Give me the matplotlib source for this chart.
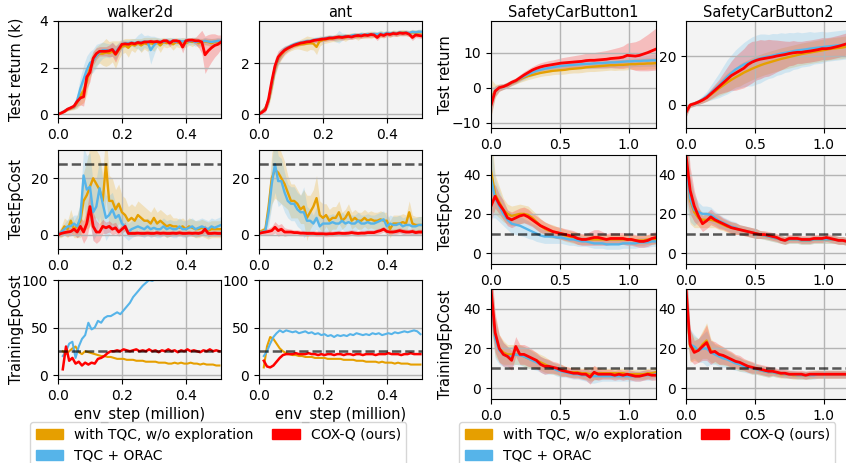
import numpy as np
import matplotlib
matplotlib.use("Agg")
import matplotlib.pyplot as plt
from matplotlib.patches import Patch

W, H = 846, 463
ORANGE = '#E69F00'
BLUE = '#56B4E9'
RED = '#FF0000'

labels = ['with TQC, w/o exploration', 'TQC + ORAC', 'COX-Q (ours)']
envs_left = ['walker2d', 'ant']
envs_right = ['SafetyCarButton1', 'SafetyCarButton2']

# ---------------- left group (x in million steps) ----------------
x_eval = np.round(np.arange(52) * 0.01, 2)          # 0.00 .. 0.51
x_train = np.round(0.015 + np.arange(50) * 0.01, 3)  # 0.015 .. 0.505

wr_orange = [0.00, 0.06, 0.12, 0.20, 0.25, 0.30, 0.50, 0.80, 1.00, 1.40,
             2.00, 2.30, 2.50, 2.60, 2.60, 2.65, 2.62, 2.70, 2.55, 2.75,
             2.90, 2.95, 2.85, 3.00, 2.95, 3.05, 2.95, 3.05, 3.00, 3.05,
             3.00, 3.08, 2.95, 3.10, 3.05, 3.10, 3.00, 3.10, 3.05, 3.10,
             3.05, 3.12, 3.10, 3.15, 3.05, 3.10, 3.12, 3.10, 3.05, 3.10,
             3.12, 3.10]
wr_blue = [0.00, 0.06, 0.14, 0.22, 0.28, 0.32, 0.60, 1.10, 1.50, 1.90,
           2.20, 2.30, 2.50, 2.65, 2.75, 2.75, 2.72, 2.80, 2.65, 2.85,
           3.00, 3.05, 3.05, 3.08, 3.05, 3.10, 3.10, 3.12, 3.10, 2.75,
           2.95, 3.10, 3.12, 3.10, 3.15, 3.12, 3.15, 3.10, 3.15, 3.12,
           3.15, 3.12, 3.15, 3.10, 3.12, 3.10, 3.15, 3.12, 3.10, 3.12,
           3.15, 3.15]
wr_red = [0.00, 0.05, 0.12, 0.22, 0.28, 0.35, 0.55, 0.70, 0.75, 1.60,
          1.80, 2.40, 2.60, 2.70, 2.70, 2.70, 2.72, 2.78, 2.58, 2.80,
          3.00, 3.02, 3.00, 3.05, 3.02, 3.08, 3.05, 3.10, 3.10, 3.12,
          3.10, 3.12, 3.08, 3.15, 3.15, 3.05, 3.15, 3.15, 3.12, 2.88,
          3.15, 3.18, 3.18, 3.15, 3.15, 3.10, 2.55, 2.72, 2.85, 2.95,
          3.00, 3.10]
wr_orange_sd = [0.02, 0.04, 0.05, 0.06, 0.08, 0.10, 0.25, 0.40, 0.50, 0.55,
                0.45, 0.40, 0.40, 0.40, 0.50, 0.60, 0.50, 0.45, 0.60, 0.40,
                0.30, 0.30, 0.40, 0.25, 0.30, 0.20, 0.30, 0.25, 0.30, 0.25,
                0.30, 0.20, 0.30, 0.20, 0.20, 0.20, 0.25, 0.20, 0.20, 0.20,
                0.20, 0.15, 0.20, 0.15, 0.20, 0.15, 0.15, 0.15, 0.20, 0.15,
                0.15, 0.15]
wr_blue_sd = [0.02, 0.04, 0.05, 0.06, 0.08, 0.10, 0.30, 0.50, 0.60, 0.60,
              0.50, 0.50, 0.50, 0.40, 0.35, 0.30, 0.30, 0.30, 0.30, 0.25,
              0.20, 0.15, 0.15, 0.15, 0.20, 0.30, 0.40, 0.25, 0.30, 0.60,
              0.40, 0.20, 0.15, 0.15, 0.15, 0.15, 0.15, 0.15, 0.15, 0.15,
              0.15, 0.15, 0.15, 0.20, 0.15, 0.15, 0.15, 0.15, 0.15, 0.15,
              0.15, 0.15]
wr_red_sd = [0.02, 0.04, 0.05, 0.06, 0.08, 0.10, 0.20, 0.30, 0.40, 0.50,
             0.40, 0.30, 0.25, 0.20, 0.20, 0.20, 0.25, 0.30, 0.35, 0.25,
             0.15, 0.12, 0.12, 0.10, 0.10, 0.10, 0.10, 0.10, 0.10, 0.10,
             0.10, 0.10, 0.10, 0.10, 0.10, 0.15, 0.10, 0.10, 0.10, 0.25,
             0.15, 0.10, 0.10, 0.15, 0.30, 0.50, 0.80, 0.70, 0.60, 0.50,
             0.40, 0.30]

ar_orange = [0.05, 0.12, 0.25, 0.50, 1.10, 1.80, 2.15, 2.35, 2.50, 2.58,
             2.65, 2.70, 2.72, 2.75, 2.76, 2.78, 2.80, 2.78, 2.65, 2.88,
             2.92, 2.95, 2.98, 2.98, 3.00, 3.02, 3.05, 3.02, 3.06, 3.08,
             3.10, 3.06, 3.12, 3.10, 3.14, 3.12, 3.15, 3.12, 3.16, 3.14,
             3.18, 3.15, 3.20, 3.18, 3.20, 3.22, 3.20, 3.18, 3.22, 3.20,
             3.22, 3.22]
ar_blue = [0.02, 0.10, 0.22, 0.55, 1.20, 1.85, 2.20, 2.40, 2.55, 2.62,
           2.70, 2.75, 2.80, 2.82, 2.85, 2.88, 2.88, 2.92, 2.94, 2.95,
           2.98, 3.00, 3.02, 3.02, 3.00, 3.05, 3.05, 3.08, 3.05, 3.10,
           3.12, 3.10, 3.14, 3.12, 3.15, 3.14, 3.16, 3.15, 3.18, 3.15,
           3.20, 3.18, 3.20, 3.18, 3.22, 3.20, 3.22, 3.20, 3.24, 3.22,
           3.25, 3.24]
ar_red = [0.00, 0.08, 0.18, 0.60, 1.30, 1.90, 2.25, 2.40, 2.52, 2.60,
          2.66, 2.72, 2.76, 2.80, 2.82, 2.85, 2.86, 2.90, 2.92, 2.94,
          2.96, 2.97, 3.00, 3.00, 3.02, 3.04, 3.02, 3.05, 3.06, 3.04,
          3.08, 3.10, 3.08, 3.12, 3.10, 3.14, 3.12, 3.02, 3.14, 3.10,
          3.16, 3.14, 3.18, 3.16, 3.20, 3.18, 3.20, 3.15, 3.02, 3.12,
          3.10, 3.08]
ar_orange_sd = [0.05, 0.08, 0.12, 0.20, 0.30, 0.30, 0.25, 0.20, 0.18, 0.15,
                0.15, 0.15, 0.15, 0.20, 0.25, 0.30, 0.25, 0.25, 0.30, 0.20,
                0.15, 0.15, 0.15, 0.12, 0.15, 0.15, 0.12, 0.15, 0.12, 0.12,
                0.12, 0.15, 0.12, 0.12, 0.12, 0.15, 0.12, 0.12, 0.15, 0.12,
                0.12, 0.12, 0.12, 0.12, 0.12, 0.12, 0.12, 0.12, 0.12, 0.12,
                0.12, 0.12]
ar_blue_sd = [0.02, 0.05, 0.10, 0.20, 0.30, 0.30, 0.25, 0.20, 0.15, 0.12,
              0.10, 0.10, 0.10, 0.10, 0.10, 0.10, 0.10, 0.10, 0.12, 0.12,
              0.10, 0.10, 0.10, 0.10, 0.15, 0.25, 0.15, 0.10, 0.10, 0.10,
              0.10, 0.10, 0.10, 0.10, 0.10, 0.10, 0.10, 0.10, 0.10, 0.10,
              0.10, 0.10, 0.10, 0.10, 0.10, 0.10, 0.10, 0.10, 0.10, 0.10,
              0.10, 0.10]
ar_red_sd = [0.02, 0.05, 0.10, 0.20, 0.30, 0.30, 0.25, 0.20, 0.15, 0.12,
             0.10, 0.10, 0.10, 0.10, 0.10, 0.10, 0.10, 0.10, 0.10, 0.10,
             0.10, 0.10, 0.10, 0.10, 0.10, 0.10, 0.10, 0.10, 0.10, 0.10,
             0.10, 0.10, 0.10, 0.10, 0.10, 0.10, 0.10, 0.12, 0.10, 0.10,
             0.10, 0.10, 0.10, 0.10, 0.10, 0.10, 0.10, 0.10, 0.12, 0.10,
             0.10, 0.10]

wc_orange = [0, 1, 3, 2, 5, 2, 3, 5, 12, 14,
             17, 20, 18, 16, 12, 25, 12, 12, 9, 11,
             8, 7, 5, 6, 5, 7, 6, 5, 5, 4,
             6, 4, 5, 4, 3, 3.5, 3, 3, 2.5, 3,
             2, 3, 2.5, 2, 2, 2.5, 2, 1.5, 2, 2,
             2, 2]
wc_blue = [0, 1, 2, 3, 3, 4, 3, 6, 21, 16,
           17, 8, 10, 16.5, 11, 6, 7, 9, 6, 7,
           4, 3, 1, 2, 2.5, 3, 2.5, 2, 3, 2,
           2.5, 2, 2, 3, 2, 2.5, 2, 2, 3, 2,
           2, 2.5, 3, 2, 2.5, 3, 2.5, 2, 3, 2.5,
           3, 3.5]
wc_red = [0, 0.5, 0.8, 1, 1.2, 2, 1, 3, 1, 4,
          10, 3, 1, 1, 3, 2.5, 3, 2, 2.5, 1,
          2, 3, 0.5, 0.5, 0.5, 0.6, 0.5, 0.5, 0.6, 0.5,
          0.5, 0.7, 0.5, 0.6, 0.5, 0.5, 0.6, 0.5, 0.7, 0.5,
          0.5, 0.6, 0.5, 0.6, 0.5, 0.8, 2, 0.5, 0.5, 0.6,
          0.5, 0.5]
wc_orange_sd = [1, 2, 3, 3, 4, 3, 4, 6, 10, 12,
                14, 14, 12, 12, 10, 12, 9, 8, 7, 7,
                6, 6, 5, 5, 5, 5, 5, 5, 4, 4,
                4, 4, 4, 4, 4, 4, 3, 3, 3, 3,
                3, 3, 3, 3, 3, 3, 3, 3, 3, 3,
                3, 3]
wc_blue_sd = [1, 1.5, 2, 2.5, 3, 3, 4, 6, 10, 12,
              12, 10, 10, 10, 9, 8, 7, 6, 5, 5,
              4, 4, 3, 3, 3, 3, 3, 3, 3, 3,
              3, 3, 3, 3, 3, 3, 3, 3, 3, 3,
              3, 3, 3, 3, 3, 3, 3, 3, 3, 3,
              3, 3]
wc_red_sd = [0.5, 1, 1, 1.5, 1.5, 2, 2, 3, 4, 5,
             6, 5, 4, 3, 2.5, 2, 2, 2, 2, 1.5,
             1.5, 1.5, 1, 1, 1, 1, 1, 1, 1, 1,
             1, 1, 1, 1, 1, 1, 1, 1, 1, 1,
             1, 1, 1, 1, 1, 1, 1.5, 1, 1, 1,
             1, 1]

ac_orange = [1, 1.5, 2, 10, 20, 23, 22, 20, 18, 15,
             12, 12, 11, 9, 10, 6, 8, 10, 13, 7,
             6, 7, 5, 6, 6, 8, 5, 6, 8, 5,
             6, 5, 5, 6, 5, 5.5, 5, 5, 5.5, 5,
             5, 2, 4, 4, 4, 4.5, 4, 8, 4, 3.5,
             3.5, 3.5]
ac_blue = [1, 1, 1.5, 8, 18, 25, 19, 19, 15, 12,
           11, 11, 9, 8, 8, 5, 5, 4, 6, 3,
           4, 4, 4, 4.5, 4, 4, 5, 4, 4.5, 4,
           4, 5, 4, 4, 4.5, 4, 4, 4.5, 5, 5.5,
           3, 4, 3.5, 3.5, 4, 3, 3.5, 3.5, 3, 3,
           3.5, 3.5]
ac_red = [0.5, 0.8, 1, 1.2, 1.5, 2.7, 1.5, 2, 1, 1,
          1, 0.8, 0.8, 0.6, 0.6, 0.5, 0.5, 0.5, 0.4, 0.4,
          0.4, 0.3, 0.4, 0.4, 0.5, 0.6, 0.5, 0.5, 0.6, 0.8,
          0.6, 0.5, 0.6, 0.6, 0.8, 0.8, 0.8, 1.2, 1.5, 2,
          1.2, 1, 1, 1.2, 1.5, 1.2, 1, 1, 1.2, 0.8,
          1, 1]
ac_orange_sd = [0.5, 1, 1, 5, 9, 10, 10, 9, 8, 6,
                6, 6, 5, 5, 6, 8, 6, 6, 8, 5,
                5, 4, 4, 4, 4, 4, 3, 3, 3, 3,
                3, 3, 3, 3, 3, 3, 3, 3, 3, 3,
                3, 3, 3, 3, 3, 3, 3, 4, 3, 3,
                3, 3]
ac_blue_sd = [0.5, 0.5, 1, 5, 8, 10, 9, 8, 7, 6,
              6, 6, 6, 6, 9, 5, 4, 3, 4, 3,
              3, 3, 3, 3, 3, 3, 3, 3, 3, 3,
              3, 3, 3, 3, 3, 3, 3, 3, 3, 3,
              3, 3, 3, 3, 3, 3, 3, 3, 3, 3,
              3, 3]
ac_red_sd = [0.5, 0.8, 1, 1.2, 1.5, 2, 2, 2, 1.5, 1.2,
             1, 1, 1, 1, 1, 1, 1, 1, 1, 1,
             1, 1, 1, 1, 1, 1, 1, 1, 1, 1,
             1, 1, 1, 1, 1, 1, 1, 1, 1, 1,
             1, 1, 1, 1, 1, 1, 1, 1, 1, 1,
             1, 1]

wt_orange = [25, 22, 25, 28, 30, 24, 22, 25, 24, 23,
             22, 21, 20, 20, 19, 19, 18, 17, 17, 17,
             16, 16, 16, 15, 15, 15, 14, 14, 14, 14,
             13, 13, 13, 12, 12, 13, 12, 13, 12, 12,
             13, 12, 12, 11, 12, 11, 11, 11, 10, 10]
wt_blue = [20, 25, 33, 35, 18, 30, 38, 42, 55, 48,
           50, 57, 55, 60, 62, 62, 64, 66, 64, 68,
           72, 76, 82, 86, 90, 94, 97, 100, 99, 101,
           103, 100, 102, 105, 108, 112, 115, 118, 120, 118,
           115, 112, 110, 108, 106, 104, 102, 101, 100.5, 100]
wt_red = [6, 30, 15, 18, 12, 14, 10, 13, 11, 13,
          12, 17, 18, 20, 23, 25, 25, 26, 25, 27,
          26, 25, 26, 27, 25, 26, 25, 27, 25, 26,
          24, 26, 25, 27, 25, 26, 24, 26, 25, 27,
          25, 26, 25, 24, 26, 25, 27, 25, 26, 25]

at_orange = [8, 30, 40, 38, 33, 28, 25, 23, 22, 21,
             21, 20, 20, 19, 19, 19, 18, 18, 18, 18,
             17, 17, 17, 17, 17, 16, 16, 16, 16, 15,
             15, 15, 14, 14, 14, 14, 13, 14, 13, 13,
             13, 12, 13, 12, 12, 12, 11, 11, 11, 11]
at_blue = [20, 25, 33, 40, 44, 47, 45, 47, 46, 45,
           46, 44, 45, 46, 44, 45, 43, 44, 42, 43,
           41, 42, 40, 42, 41, 42, 41, 43, 42, 44,
           43, 42, 43, 42, 44, 43, 44, 42, 43, 44,
           43, 45, 44, 45, 46, 45, 46, 47, 46, 43]
at_red = [15, 9, 8, 10, 14, 18, 21, 22, 22, 22,
          23, 22, 22, 22, 23, 22, 22, 21, 22, 21,
          22, 22, 21, 22, 22, 21, 22, 22, 21, 22,
          22, 21, 22, 22, 22, 21, 22, 22, 22, 23,
          22, 22, 22, 21, 22, 22, 23, 22, 22, 22]

# ---------------- right group ----------------
x_r = np.round(np.arange(41) * 0.03, 2)  # 0.00 .. 1.20

s1_ret_orange = [-3, -1, 0, 0.3, 0.8, 1.3, 1.8, 2.4, 2.9, 3.3,
                 3.6, 3.9, 4.2, 4.4, 4.6, 4.8, 4.9, 5.0, 5.1, 5.3,
                 5.4, 5.5, 5.6, 5.8, 5.9, 6.0, 6.1, 6.2, 6.3, 6.4,
                 6.4, 6.5, 6.5, 6.6, 6.7, 6.7, 6.8, 6.8, 6.9, 6.9,
                 7.0]
s1_ret_blue = [-4, -1, 0, 0.3, 0.8, 1.4, 1.9, 2.6, 3.2, 3.8,
               4.3, 4.8, 5.1, 5.4, 5.6, 5.8, 6.0, 6.2, 6.3, 6.4,
               6.5, 6.6, 6.7, 6.8, 6.8, 6.9, 7.0, 7.0, 7.1, 7.2,
               7.2, 7.3, 7.4, 7.5, 7.5, 7.6, 7.6, 7.7, 7.7, 7.8,
               7.8]
s1_ret_red = [-5, -1, 0, 0.3, 0.8, 1.5, 2.0, 2.8, 3.6, 4.3,
              5.0, 5.5, 5.9, 6.2, 6.4, 6.6, 6.8, 7.0, 7.1, 7.2,
              7.3, 7.4, 7.5, 7.7, 7.8, 7.8, 7.9, 8.0, 8.1, 8.3,
              8.4, 8.5, 8.7, 9.2, 9.1, 9.0, 9.2, 9.6, 10.0, 10.5,
              11.0]
s1_ret_orange_sd = [5.5, 2, 1, 0.8, 0.8, 0.8, 0.8, 0.9, 1, 1,
                    1, 1, 1, 1, 1.1, 1.1, 1.1, 1.2, 1.2, 1.2,
                    1.2, 1.3, 1.3, 1.3, 1.3, 1.4, 1.4, 1.4, 1.4, 1.4,
                    1.5, 1.5, 1.5, 1.5, 1.5, 1.5, 1.6, 1.6, 1.6, 1.6,
                    1.6]
s1_ret_blue_sd = [4, 1.5, 1, 0.8, 0.8, 0.8, 0.8, 0.9, 1, 1,
                  1, 1, 1, 1.1, 1.1, 1.1, 1.2, 1.2, 1.2, 1.2,
                  1.3, 1.3, 1.3, 1.3, 1.4, 1.4, 1.4, 1.4, 1.4, 1.5,
                  1.5, 1.5, 1.5, 1.5, 1.6, 1.6, 1.6, 1.6, 1.6, 1.7,
                  1.7]
s1_ret_red_sd = [3, 1.5, 1, 0.8, 0.8, 0.8, 0.8, 0.9, 1, 1,
                 1, 1.1, 1.2, 1.2, 1.3, 1.3, 1.4, 1.5, 1.6, 1.7,
                 1.8, 1.9, 2, 2.1, 2.2, 2.2, 2.3, 2.4, 2.5, 2.6,
                 2.8, 3, 3.2, 3.5, 3.8, 4.1, 4.4, 4.8, 5.2, 5.6,
                 6]

s2_ret_orange = [-3, 0, 0.5, 1.2, 2, 3, 4.2, 5.5, 6.8, 8,
                 9.2, 10.3, 11.3, 12.2, 13.2, 14, 14.8, 15.5, 16.2, 16.8,
                 17.3, 17.8, 18.3, 18.8, 19.2, 19.6, 20, 20.4, 20.8, 21.1,
                 21.4, 21.7, 22, 22.3, 22.6, 22.9, 23.1, 23.3, 23.5, 23.8,
                 24]
s2_ret_blue = [-3, 0, 0.5, 1.3, 2.3, 3.5, 5, 6.5, 8, 9.8,
               11.5, 13, 14.5, 15.5, 16.5, 17.2, 17.8, 18.5, 19, 19.5,
               19.8, 20.2, 20.6, 21, 21.3, 21.6, 22, 22.3, 22.5, 22.7,
               23, 23.2, 23.4, 23.6, 23.8, 24, 24.2, 24.4, 24.6, 24.8,
               25]
s2_ret_red = [-3, 0, 0.5, 1.2, 2.0, 3.0, 4.5, 6, 7.5, 9,
              10.5, 12, 13, 14, 15, 16.5, 17.5, 18.2, 18.7, 19,
              19.3, 19.6, 20, 20.3, 20.6, 21, 21.3, 21.5, 21.5, 21.8,
              22, 22.3, 22.6, 23, 23, 23.2, 23.6, 24, 24.5, 25,
              25.2]
s2_ret_orange_sd = [2, 1, 1, 1, 1.2, 1.5, 2, 2.5, 3, 3.5,
                    4, 4, 4, 4.5, 4.5, 4.5, 4.5, 4.5, 4.5, 4.5,
                    4.5, 4.5, 4.5, 4.5, 4.5, 4.5, 4.5, 4.5, 4.5, 4.5,
                    4.5, 4.5, 4.5, 4.5, 4.5, 4.5, 4.5, 4.5, 4.5, 4.5,
                    4.5]
s2_ret_blue_sd = [2, 1, 1, 1, 1.5, 2, 3, 4, 5, 6,
                  7, 7.5, 8, 8.5, 9, 9.5, 10, 10, 10, 9.5,
                  9, 9, 8.5, 8.5, 8, 8, 7.5, 7.5, 7, 7,
                  7, 6.5, 6.5, 6.5, 6, 6, 6, 6, 6, 6,
                  6]
s2_ret_red_sd = [2, 1, 1, 1, 1.2, 1.5, 2, 2.5, 3, 4,
                 5, 6, 7, 7.5, 8, 8.5, 8.5, 8, 8, 7.5,
                 7.5, 7, 6.5, 6, 5.5, 5, 5, 4.5, 4.5, 4.5,
                 4.5, 4.5, 4.5, 4.5, 4.5, 4.5, 4.5, 4.5, 4.5, 4.5,
                 4.5]

s1_tc_orange = [42, 30, 26, 22, 20, 19, 19.5, 20, 20, 19.5,
                18, 16, 14, 12.5, 11.5, 11, 10.5, 10, 9, 8.5,
                8, 7.5, 7, 7, 7, 7, 7, 7, 7, 7,
                7, 7, 7, 7, 7, 6.5, 6.5, 6.5, 7, 7,
                7]
s1_tc_blue = [38, 28, 24, 20, 17, 15, 14.5, 14, 13, 12,
              11, 10, 9, 8.5, 8.5, 8.5, 8, 8, 7.5, 7,
              7, 6.5, 6, 6, 5.5, 5, 5, 5, 4.5, 4.5,
              4.5, 4.5, 5, 5, 5, 5, 5.5, 5.5, 5.5, 6,
              6]
s1_tc_red = [24, 29, 25, 22, 18, 17, 18, 19, 19.5, 18.5,
             17, 15.5, 14, 13, 12, 11, 10.5, 10, 9.5, 9,
             8.5, 7.5, 7, 7, 7.5, 8, 8, 7.5, 7, 7.5,
             7.5, 7.5, 7.5, 7, 7, 6.5, 6, 6, 6.5, 7.5,
             8]
s1_tc_sd = [20, 10, 8, 6, 5, 5, 5, 5, 4.5, 4.5,
            4, 4, 3.5, 3.5, 3.5, 3.5, 3, 3, 3, 3,
            3, 3, 2.5, 2.5, 2.5, 2.5, 2.5, 2.5, 2.5, 2.5,
            2.5, 2.5, 2.5, 2.5, 2.5, 2.5, 2.5, 2.5, 2.5, 2.5,
            2.5]
s1_tc_red_sd = [8, 6, 5, 5, 4, 4, 4, 4, 4, 4,
                3.5, 3.5, 3.5, 3, 3, 3, 3, 3, 3, 3,
                3, 3, 3, 3, 3.5, 4, 4, 3.5, 3, 3,
                3, 3, 3, 3, 3, 3, 3, 3, 3, 3,
                3]

s2_tc_orange = [48, 27, 21, 18, 17, 17, 17, 16.5, 15.5, 14.5,
                13.5, 13, 12.5, 12, 11.5, 11, 10.5, 10, 9.5, 9,
                8.5, 8, 7.5, 7, 6.5, 7, 7, 7, 6.5, 6.5,
                6.5, 7, 7, 7, 7, 7, 7, 6.5, 6.5, 6,
                6]
s2_tc_blue = [45, 28, 22, 21, 20, 20, 19.5, 18, 16.5, 15.5,
              14.5, 13.5, 13, 12, 11.5, 11, 10.5, 10, 9.5, 9,
              8.5, 8, 7.5, 7, 6.5, 7, 7, 7, 6.5, 6.5,
              6.5, 7, 7, 7, 7, 7, 7, 6.5, 6.5, 6,
              6]
s2_tc_red = [50, 32, 24, 19, 15, 16.5, 18.5, 17, 16, 15,
             14, 13, 12.5, 12, 11.5, 11, 10.5, 10, 9.5, 9.5,
             9, 8.5, 8, 7, 6.5, 7.5, 7.5, 7.5, 7, 7,
             7, 7.5, 7.5, 7.5, 8, 7.5, 7, 6.5, 6.5, 6,
             6]
s2_tc_sd = [20, 12, 8, 5, 4, 4, 4, 3.5, 3.5, 3,
            3, 3, 3, 2.5, 2.5, 2.5, 2.5, 2.5, 2, 2,
            2, 2, 2, 2, 2, 2, 2, 2, 2, 2,
            2, 2, 2, 2, 2, 2, 2, 2, 2, 2,
            2]

s1_tr_orange = [46, 26, 20, 18, 17, 17, 17, 17, 16, 15,
                14.5, 14, 13, 12, 11, 10, 9.5, 9, 8.5, 8,
                8, 8, 7.5, 7.5, 7, 7.5, 7.5, 7.5, 7.5, 7.5,
                7.5, 7.5, 7.5, 7, 7, 7, 7, 7, 7.5, 7.5,
                8]
s1_tr_blue = [48, 25, 19, 17, 16, 16, 17, 16.5, 16, 15,
              14, 13, 12, 11, 10.5, 10, 9, 8.5, 8, 7.5,
              7, 7, 6.5, 6.5, 6, 6, 6, 6, 6, 6,
              6, 6, 6, 6, 6, 6, 6, 6.5, 6.5, 6.5,
              7]
s1_tr_red = [50, 28, 20, 17, 16, 14, 21, 17, 17, 16,
             15, 14, 12, 11, 11, 10.5, 10, 9, 8.5, 8,
             7.5, 7.5, 7, 7, 5.5, 8, 7, 7, 7, 7,
             6.5, 7, 6.5, 7, 6.5, 6, 6, 6.5, 7, 6.5,
             6.5]
s1_tr_sd = [15, 10, 7, 6, 5, 5, 5, 5, 5, 5,
            4.5, 4, 4, 4, 3.5, 3, 3, 3, 2.5, 2.5,
            2.5, 2.5, 2.5, 3, 3.5, 3.5, 3, 2.5, 2.5, 2.5,
            2.5, 2.5, 2.5, 2.5, 2.5, 2.5, 2.5, 2.5, 2.5, 2.5,
            2.5]

s2_tr_orange = [46, 21, 20, 19, 22, 24, 19, 17.5, 17, 16,
                15, 14, 13, 12, 11.5, 11, 10, 9.5, 9, 8.5,
                8, 8, 7.5, 7, 7, 7, 6.5, 6.5, 6.5, 6.5,
                6.5, 7, 7, 7, 7, 7, 7, 7, 7, 7,
                7]
s2_tr_blue = [48, 22, 21, 19, 20, 20, 18, 17, 16, 15,
              14.5, 13.5, 12.5, 12, 11, 10.5, 10, 9.5, 9, 8.5,
              8, 8, 7.5, 7.5, 7, 7, 7, 6.5, 6.5, 6.5,
              6.5, 6.5, 7, 7, 7, 7, 7, 7, 7, 7,
              7]
s2_tr_red = [50, 22, 18, 19, 21, 23, 18, 18.5, 17, 16.5,
             15.5, 14.5, 13.5, 13, 12, 11, 10.5, 10, 9.5, 9,
             8.5, 8.5, 8, 7.5, 7.5, 7, 7, 7, 7, 6.5,
             7, 7, 7, 7, 7, 7, 7, 7, 7, 7,
             7]
s2_tr_sd = [15, 8, 6, 6, 7, 9, 6, 5, 5, 4.5,
            4, 4, 3.5, 3.5, 3, 3, 3, 2.5, 2.5, 2.5,
            2.5, 2, 2, 2, 2, 2, 2, 2, 2, 2,
            2, 2, 2, 2, 2, 2, 2, 2, 2, 2,
            2]


plt.rcParams['font.family'] = 'DejaVu Sans'
plt.rcParams['font.size'] = 10

fig = plt.figure(figsize=(W / 100, H / 100), dpi=100)


def box(x0, y0, x1, y1):
    return [x0 / W, 1 - y1 / H, (x1 - x0) / W, (y1 - y0) / H]


def panel(rect, x, series, xlim, ylim, xticks, yticks, thresh=None, lw=1.7):
    ax = fig.add_axes(rect)
    ax.set_facecolor('#f3f3f3')
    ax.grid(True, color='#b4b4b4', lw=1.0)
    x = np.asarray(x)
    for mean, sd, color in series:
        mean = np.asarray(mean, dtype=float)
        if sd is not None:
            sd = np.asarray(sd, dtype=float)
            ax.fill_between(x, mean - sd, mean + sd, color=color, alpha=0.22, lw=0)
        ax.plot(x, mean, color=color, lw=(lw + 0.3 if color == RED else lw))
    if thresh is not None:
        ax.axhline(thresh, color='k', alpha=0.65, lw=1.8, ls='--', zorder=5)
    ax.set_xlim(*xlim)
    ax.set_ylim(*ylim)
    ax.set_xticks(xticks)
    ax.set_yticks(yticks)
    return ax


# left group geometry
lcols = [(58, 221), (259, 422)]
lrows = [(21, 118), (150, 249), (280, 379)]
lxt = [0.0, 0.2, 0.4]
lxlim = (0, 0.51)

left_data = [
    [  # walker2d
        ([(wr_orange, wr_orange_sd, ORANGE), (wr_blue, wr_blue_sd, BLUE), (wr_red, wr_red_sd, RED)],
         x_eval, (-0.16, 4.0), [0, 2, 4], None),
        ([(wc_orange, wc_orange_sd, ORANGE), (wc_blue, wc_blue_sd, BLUE), (wc_red, wc_red_sd, RED)],
         x_eval, (-5, 30), [0, 20], 25),
        ([(wt_orange, None, ORANGE), (wt_blue, None, BLUE), (wt_red, None, RED)],
         x_train, (-4.2, 100), [0, 50, 100], 25),
    ],
    [  # ant
        ([(ar_orange, ar_orange_sd, ORANGE), (ar_blue, ar_blue_sd, BLUE), (ar_red, ar_red_sd, RED)],
         x_eval, (-0.15, 3.67), [0, 2], None),
        ([(ac_orange, ac_orange_sd, ORANGE), (ac_blue, ac_blue_sd, BLUE), (ac_red, ac_red_sd, RED)],
         x_eval, (-5, 30), [0, 20], 25),
        ([(at_orange, None, ORANGE), (at_blue, None, BLUE), (at_red, None, RED)],
         x_train, (-4.2, 100), [0, 50, 100], 25),
    ],
]
left_ylabels = ['Test return (k)', 'TestEpCost', 'TrainingEpCost']

for c, (cx0, cx1) in enumerate(lcols):
    for r, (ry0, ry1) in enumerate(lrows):
        series, xs, ylim, yt, th = left_data[c][r]
        ax = panel(box(cx0, ry0, cx1, ry1), xs, series, lxlim, ylim, lxt, yt, th,
                   lw=(1.5 if r == 2 else 1.7))
        if r == 0:
            ax.set_title(envs_left[c], fontsize=10.5, pad=3)
        if r == 2:
            ax.set_xlabel('env_step (million)', fontsize=10.5, labelpad=3)
        if c == 0:
            ax.set_ylabel(left_ylabels[r], fontsize=10.5)
            ax.yaxis.set_label_coords((24 - cx0) / (cx1 - cx0), 0.5)

# right group geometry
rcols = [(491, 656), (686, 851)]
rrows = [(21, 128), (155, 264), (289, 399)]
rxt = [0.0, 0.5, 1.0]
rxlim = (0, 1.2)

right_data = [
    [
        ([(s1_ret_orange, s1_ret_orange_sd, ORANGE), (s1_ret_blue, s1_ret_blue_sd, BLUE),
          (s1_ret_red, s1_ret_red_sd, RED)], (-11.5, 19), [-10, 0, 10], None),
        ([(s1_tc_orange, s1_tc_sd, ORANGE), (s1_tc_blue, s1_tc_sd, BLUE),
          (s1_tc_red, s1_tc_red_sd, RED)], (-5.5, 50), [0, 20, 40], 10),
        ([(s1_tr_orange, s1_tr_sd, ORANGE), (s1_tr_blue, s1_tr_sd, BLUE),
          (s1_tr_red, s1_tr_sd, RED)], (-5.5, 50), [0, 20, 40], 10),
    ],
    [
        ([(s2_ret_orange, s2_ret_orange_sd, ORANGE), (s2_ret_blue, s2_ret_blue_sd, BLUE),
          (s2_ret_red, s2_ret_red_sd, RED)], (-9.4, 34.3), [0, 20], None),
        ([(s2_tc_orange, s2_tc_sd, ORANGE), (s2_tc_blue, s2_tc_sd, BLUE),
          (s2_tc_red, s2_tc_sd, RED)], (-5.5, 50), [0, 20, 40], 10),
        ([(s2_tr_orange, s2_tr_sd, ORANGE), (s2_tr_blue, s2_tr_sd, BLUE),
          (s2_tr_red, s2_tr_sd, RED)], (-5.5, 50), [0, 20, 40], 10),
    ],
]
right_ylabels = ['Test return', 'TestEpCost', 'TrainingEpCost']

for c, (cx0, cx1) in enumerate(rcols):
    for r, (ry0, ry1) in enumerate(rrows):
        series, ylim, yt, th = right_data[c][r]
        ax = panel(box(cx0, ry0, cx1, ry1), x_r, series, rxlim, ylim, rxt, yt, th)
        if r == 0:
            ax.set_title(envs_right[c], fontsize=10.5, pad=3)
        if c == 0:
            ax.set_ylabel(right_ylabels[r], fontsize=10.5)
            ax.yaxis.set_label_coords((453 - cx0) / (cx1 - cx0), 0.5)

handles = [Patch(color=ORANGE), Patch(color=BLUE), Patch(color=RED)]
for lx in (30, 459):
    fig.legend([handles[0], handles[1], handles[2]], labels, ncol=2,
               loc='upper left', bbox_to_anchor=(lx / W, 1 - 422 / H),
               borderaxespad=0, fontsize=10, frameon=True, columnspacing=1.3)

fig.savefig('out.png', dpi=100)
